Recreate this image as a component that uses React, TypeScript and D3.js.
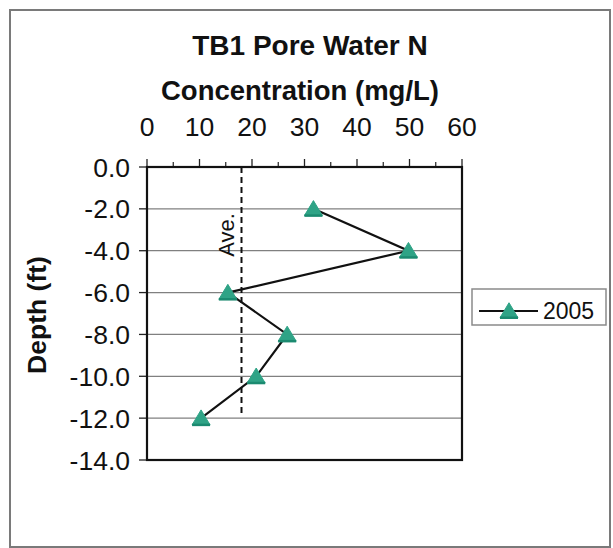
import React from "react";
import * as d3 from "d3";

// Pore water nitrate profile, boring TB1, 2005 sampling
const depthFt = [-2, -4, -6, -8, -10, -12];
const conc2005 = [31.7, 49.8, 15.4, 26.7, 20.8, 10.3];
const averageConc = 18;
const averageLineBottom = -11.75;
const xTickValues = [0, 10, 20, 30, 40, 50, 60];
const xMinorTickValues = [5, 15, 25, 35, 45, 55];
const yTickValues = [0, -2, -4, -6, -8, -10, -12, -14];
const seriesName = "2005";

const W = 613;
const H = 548;
const FONT = "Arial, 'Liberation Sans', Helvetica, sans-serif";
const MARKER_FILL = "#2fa386";
const MARKER_EDGE = "#1b8a70";

const plot = { left: 147, right: 462, top: 167, bottom: 460 };

function Triangle({ cx, cy }: { cx: number; cy: number }) {
  const w = 18;
  const h = 15;
  const p = d3.path();
  p.moveTo(cx, cy - h * 0.55);
  p.lineTo(cx + w / 2, cy + h * 0.45);
  p.lineTo(cx - w / 2, cy + h * 0.45);
  p.closePath();
  return (
    <g>
      <path d={p.toString()} fill={MARKER_FILL} stroke={MARKER_FILL} strokeWidth={1} />
      <line
        x1={cx - w / 2}
        x2={cx + w / 2}
        y1={cy + h * 0.45}
        y2={cy + h * 0.45}
        stroke={MARKER_EDGE}
        strokeWidth={2.5}
      />
    </g>
  );
}

export default function App() {
  const x = d3.scaleLinear().domain([0, 60]).range([plot.left, plot.right]);
  const y = d3.scaleLinear().domain([0, -14]).range([plot.top, plot.bottom]);
  const fmt = (v: number) => v.toFixed(1);

  const points = depthFt.map((d, i) => ({ depth: d, conc: conc2005[i] }));
  const line = d3
    .line<{ depth: number; conc: number }>()
    .x((d) => x(d.conc))
    .y((d) => y(d.depth));

  const legend = { x: 472, y: 289, w: 134, h: 36 };
  const legendMidY = legend.y + 22;

  return (
    <svg
      width={W}
      height={H}
      style={{ position: "fixed", left: 0, top: 0, background: "#fff" }}
      fontFamily={FONT}
    >
      <rect x={0} y={0} width={W} height={H} fill="#fff" />
      {/* chart area frame */}
      <rect x={10} y={10} width={600} height={537} fill="none" stroke="#7a7a7a" strokeWidth={2} />

      {/* titles */}
      <text x={310} y={55} textAnchor="middle" fontSize={28} fontWeight="bold" fill="#111">
        TB1 Pore Water N
      </text>
      <text x={300} y={100} textAnchor="middle" fontSize={27.5} fontWeight="bold" fill="#111">
        Concentration (mg/L)
      </text>
      <text
        transform={`translate(46, 315) rotate(-90)`}
        textAnchor="middle"
        fontSize={26.5}
        fontWeight="bold"
        fill="#111"
      >
        Depth (ft)
      </text>

      {/* horizontal gridlines */}
      {yTickValues
        .filter((v) => v !== 0 && v !== -14)
        .map((v) => (
          <line key={`g${v}`} x1={plot.left} x2={plot.right} y1={y(v)} y2={y(v)} stroke="#808080" strokeWidth={1.3} />
        ))}

      {/* top axis ticks and labels */}
      {xTickValues.map((v) => (
        <g key={`xt${v}`}>
          <line x1={x(v)} x2={x(v)} y1={plot.top - 8} y2={plot.top} stroke="#222" strokeWidth={1.3} />
          <text x={x(v)} y={136} textAnchor="middle" fontSize={26.5} fill="#111">
            {v}
          </text>
        </g>
      ))}
      {xMinorTickValues.map((v) => (
        <line key={`xm${v}`} x1={x(v)} x2={x(v)} y1={plot.top - 5} y2={plot.top} stroke="#222" strokeWidth={1.2} />
      ))}

      {/* left axis ticks and labels */}
      {yTickValues.map((v) => (
        <g key={`yt${v}`}>
          <line x1={plot.left - 8} x2={plot.left} y1={y(v)} y2={y(v)} stroke="#222" strokeWidth={1.3} />
          <text x={130} y={y(v) + 9.5} textAnchor="end" fontSize={26.5} fill="#111">
            {fmt(v)}
          </text>
        </g>
      ))}

      {/* plot frame */}
      <rect
        x={plot.left}
        y={plot.top}
        width={plot.right - plot.left}
        height={plot.bottom - plot.top}
        fill="none"
        stroke="#111"
        strokeWidth={2.2}
      />

      {/* average line */}
      <line
        x1={x(averageConc)}
        x2={x(averageConc)}
        y1={y(0)}
        y2={y(averageLineBottom)}
        stroke="#111"
        strokeWidth={2}
        strokeDasharray="6,4"
      />
      <text
        transform={`translate(${x(averageConc) - 8}, ${y(-3.25)}) rotate(-90)`}
        textAnchor="middle"
        fontSize={22}
        fill="#111"
      >
        Ave.
      </text>

      {/* 2005 series */}
      <path d={line(points) ?? ""} fill="none" stroke="#111" strokeWidth={2.2} />
      {points.map((p, i) => (
        <Triangle key={i} cx={x(p.conc)} cy={y(p.depth)} />
      ))}

      {/* legend */}
      <rect x={legend.x} y={legend.y} width={legend.w} height={legend.h} fill="#fff" stroke="#8a8a8a" strokeWidth={1.5} />
      <line x1={479} x2={538} y1={legendMidY} y2={legendMidY} stroke="#111" strokeWidth={2.2} />
      <Triangle cx={509} cy={legendMidY} />
      <text x={543} y={legendMidY + 7.5} fontSize={23} fill="#111">
        {seriesName}
      </text>
    </svg>
  );
}
